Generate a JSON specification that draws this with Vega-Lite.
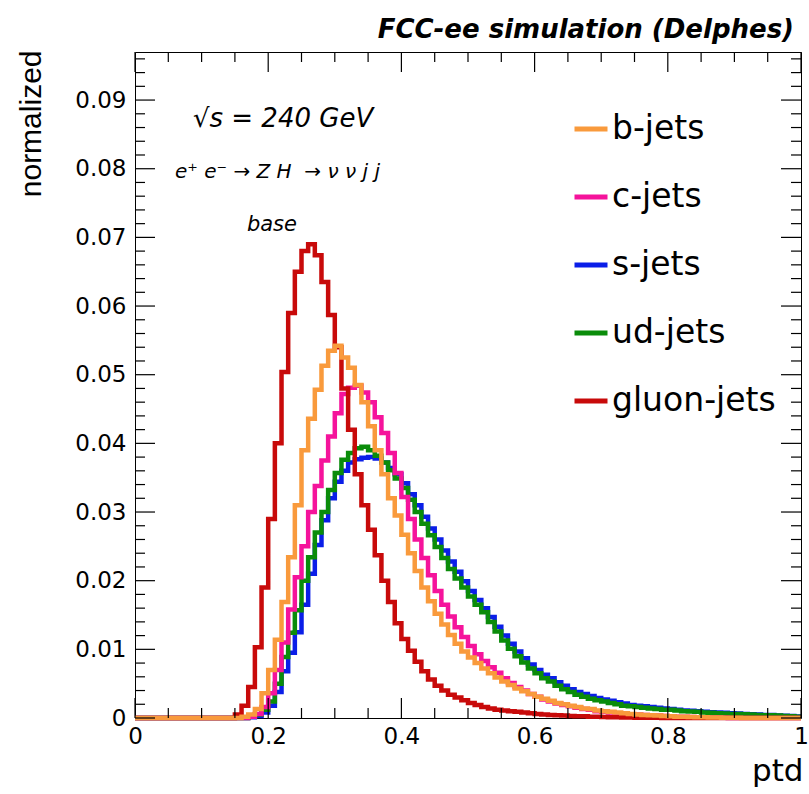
{
  "$schema": "https://vega.github.io/schema/vega-lite/v6.json",
  "width": 666,
  "height": 666,
  "autosize": "none",
  "padding": {"left": 135, "top": 52, "right": 8, "bottom": 76},
  "background": "white",
  "config": {
    "view": {"stroke": "black", "strokeWidth": 1},
    "axis": {"grid": false, "domain": false, "labelColor": "black", "titleColor": "black", "labelFont": "DejaVu Sans", "labelFontSize": 23, "labelFlush": false, "labelOverlap": false, "titleFontWeight": "normal"}
  },
  "title": {"text": "FCC-ee simulation (Delphes)", "anchor": "end", "font": "DejaVu Sans", "fontSize": 26, "fontStyle": "italic", "fontWeight": "bold", "color": "black", "offset": 7, "dx": -16},
  "datasets": {
    "h": [
      {"jet": "gluon-jets", "x": 0, "v": 0}, {"jet": "gluon-jets", "x": 0.15, "v": 0.0005}, {"jet": "gluon-jets", "x": 0.16, "v": 0.0018}, {"jet": "gluon-jets", "x": 0.17, "v": 0.0045}, {"jet": "gluon-jets", "x": 0.18, "v": 0.0103}, {"jet": "gluon-jets", "x": 0.19, "v": 0.019}, {"jet": "gluon-jets", "x": 0.2, "v": 0.029}, {"jet": "gluon-jets", "x": 0.21, "v": 0.04}, {"jet": "gluon-jets", "x": 0.22, "v": 0.0504}, {"jet": "gluon-jets", "x": 0.23, "v": 0.059}, {"jet": "gluon-jets", "x": 0.24, "v": 0.065}, {"jet": "gluon-jets", "x": 0.25, "v": 0.068}, {"jet": "gluon-jets", "x": 0.26, "v": 0.069}, {"jet": "gluon-jets", "x": 0.27, "v": 0.0674}, {"jet": "gluon-jets", "x": 0.28, "v": 0.0635}, {"jet": "gluon-jets", "x": 0.29, "v": 0.0587}, {"jet": "gluon-jets", "x": 0.3, "v": 0.054}, {"jet": "gluon-jets", "x": 0.31, "v": 0.048}, {"jet": "gluon-jets", "x": 0.32, "v": 0.042}, {"jet": "gluon-jets", "x": 0.33, "v": 0.0355}, {"jet": "gluon-jets", "x": 0.34, "v": 0.031}, {"jet": "gluon-jets", "x": 0.35, "v": 0.0274}, {"jet": "gluon-jets", "x": 0.36, "v": 0.0237}, {"jet": "gluon-jets", "x": 0.37, "v": 0.02}, {"jet": "gluon-jets", "x": 0.38, "v": 0.0169}, {"jet": "gluon-jets", "x": 0.39, "v": 0.0138}, {"jet": "gluon-jets", "x": 0.4, "v": 0.0115}, {"jet": "gluon-jets", "x": 0.41, "v": 0.0098}, {"jet": "gluon-jets", "x": 0.42, "v": 0.0082}, {"jet": "gluon-jets", "x": 0.43, "v": 0.0068}, {"jet": "gluon-jets", "x": 0.44, "v": 0.0056}, {"jet": "gluon-jets", "x": 0.45, "v": 0.0047}, {"jet": "gluon-jets", "x": 0.46, "v": 0.004}, {"jet": "gluon-jets", "x": 0.47, "v": 0.0034}, {"jet": "gluon-jets", "x": 0.48, "v": 0.003}, {"jet": "gluon-jets", "x": 0.49, "v": 0.0026}, {"jet": "gluon-jets", "x": 0.5, "v": 0.0022}, {"jet": "gluon-jets", "x": 0.51, "v": 0.0019}, {"jet": "gluon-jets", "x": 0.52, "v": 0.0016}, {"jet": "gluon-jets", "x": 0.53, "v": 0.0014}, {"jet": "gluon-jets", "x": 0.54, "v": 0.0012}, {"jet": "gluon-jets", "x": 0.55, "v": 0.0011}, {"jet": "gluon-jets", "x": 0.56, "v": 0.001}, {"jet": "gluon-jets", "x": 0.57, "v": 0.0009}, {"jet": "gluon-jets", "x": 0.58, "v": 0.0008}, {"jet": "gluon-jets", "x": 0.59, "v": 0.0007}, {"jet": "gluon-jets", "x": 0.6, "v": 0.0006}, {"jet": "gluon-jets", "x": 0.61, "v": 0.0005}, {"jet": "gluon-jets", "x": 0.62, "v": 0.00045}, {"jet": "gluon-jets", "x": 0.63, "v": 0.0004}, {"jet": "gluon-jets", "x": 0.64, "v": 0.00035}, {"jet": "gluon-jets", "x": 0.65, "v": 0.0003}, {"jet": "gluon-jets", "x": 0.66, "v": 0.00027}, {"jet": "gluon-jets", "x": 0.67, "v": 0.00024}, {"jet": "gluon-jets", "x": 0.68, "v": 0.0002}, {"jet": "gluon-jets", "x": 0.69, "v": 0.00017}, {"jet": "gluon-jets", "x": 0.7, "v": 0.00015}, {"jet": "gluon-jets", "x": 0.71, "v": 0.00012}, {"jet": "gluon-jets", "x": 0.72, "v": 0.0001}, {"jet": "gluon-jets", "x": 0.73, "v": 0.00008}, {"jet": "gluon-jets", "x": 0.74, "v": 0.00006}, {"jet": "gluon-jets", "x": 0.75, "v": 0.00005}, {"jet": "gluon-jets", "x": 0.76, "v": 0.00004}, {"jet": "gluon-jets", "x": 0.77, "v": 0.00003}, {"jet": "gluon-jets", "x": 0.78, "v": 0.00002}, {"jet": "gluon-jets", "x": 0.79, "v": 0}, {"jet": "gluon-jets", "x": 1, "v": 0},

      {"jet": "b-jets", "x": 0, "v": 0}, {"jet": "b-jets", "x": 0.16, "v": 0.0002}, {"jet": "b-jets", "x": 0.17, "v": 0.0005}, {"jet": "b-jets", "x": 0.18, "v": 0.0013}, {"jet": "b-jets", "x": 0.19, "v": 0.0036}, {"jet": "b-jets", "x": 0.2, "v": 0.007}, {"jet": "b-jets", "x": 0.21, "v": 0.0114}, {"jet": "b-jets", "x": 0.22, "v": 0.0169}, {"jet": "b-jets", "x": 0.23, "v": 0.0234}, {"jet": "b-jets", "x": 0.24, "v": 0.031}, {"jet": "b-jets", "x": 0.25, "v": 0.039}, {"jet": "b-jets", "x": 0.26, "v": 0.0436}, {"jet": "b-jets", "x": 0.27, "v": 0.0478}, {"jet": "b-jets", "x": 0.28, "v": 0.0513}, {"jet": "b-jets", "x": 0.29, "v": 0.0535}, {"jet": "b-jets", "x": 0.3, "v": 0.0542}, {"jet": "b-jets", "x": 0.31, "v": 0.0525}, {"jet": "b-jets", "x": 0.32, "v": 0.051}, {"jet": "b-jets", "x": 0.33, "v": 0.0485}, {"jet": "b-jets", "x": 0.34, "v": 0.046}, {"jet": "b-jets", "x": 0.35, "v": 0.0425}, {"jet": "b-jets", "x": 0.36, "v": 0.039}, {"jet": "b-jets", "x": 0.37, "v": 0.0355}, {"jet": "b-jets", "x": 0.38, "v": 0.032}, {"jet": "b-jets", "x": 0.39, "v": 0.0295}, {"jet": "b-jets", "x": 0.4, "v": 0.0267}, {"jet": "b-jets", "x": 0.41, "v": 0.024}, {"jet": "b-jets", "x": 0.42, "v": 0.0214}, {"jet": "b-jets", "x": 0.43, "v": 0.019}, {"jet": "b-jets", "x": 0.44, "v": 0.017}, {"jet": "b-jets", "x": 0.45, "v": 0.0152}, {"jet": "b-jets", "x": 0.46, "v": 0.0136}, {"jet": "b-jets", "x": 0.47, "v": 0.0121}, {"jet": "b-jets", "x": 0.48, "v": 0.0108}, {"jet": "b-jets", "x": 0.49, "v": 0.0097}, {"jet": "b-jets", "x": 0.5, "v": 0.0088}, {"jet": "b-jets", "x": 0.51, "v": 0.008}, {"jet": "b-jets", "x": 0.52, "v": 0.0072}, {"jet": "b-jets", "x": 0.53, "v": 0.0065}, {"jet": "b-jets", "x": 0.54, "v": 0.0059}, {"jet": "b-jets", "x": 0.55, "v": 0.0053}, {"jet": "b-jets", "x": 0.56, "v": 0.0048}, {"jet": "b-jets", "x": 0.57, "v": 0.0043}, {"jet": "b-jets", "x": 0.58, "v": 0.0039}, {"jet": "b-jets", "x": 0.59, "v": 0.0035}, {"jet": "b-jets", "x": 0.6, "v": 0.0031}, {"jet": "b-jets", "x": 0.61, "v": 0.0028}, {"jet": "b-jets", "x": 0.62, "v": 0.0025}, {"jet": "b-jets", "x": 0.63, "v": 0.0022}, {"jet": "b-jets", "x": 0.64, "v": 0.002}, {"jet": "b-jets", "x": 0.65, "v": 0.0018}, {"jet": "b-jets", "x": 0.66, "v": 0.0016}, {"jet": "b-jets", "x": 0.67, "v": 0.0014}, {"jet": "b-jets", "x": 0.68, "v": 0.0013}, {"jet": "b-jets", "x": 0.69, "v": 0.0011}, {"jet": "b-jets", "x": 0.7, "v": 0.001}, {"jet": "b-jets", "x": 0.71, "v": 0.0009}, {"jet": "b-jets", "x": 0.72, "v": 0.0008}, {"jet": "b-jets", "x": 0.73, "v": 0.0007}, {"jet": "b-jets", "x": 0.74, "v": 0.0006}, {"jet": "b-jets", "x": 0.75, "v": 0.0005}, {"jet": "b-jets", "x": 0.76, "v": 0.00045}, {"jet": "b-jets", "x": 0.77, "v": 0.0004}, {"jet": "b-jets", "x": 0.78, "v": 0.00035}, {"jet": "b-jets", "x": 0.79, "v": 0.0003}, {"jet": "b-jets", "x": 0.8, "v": 0.00025}, {"jet": "b-jets", "x": 0.81, "v": 0.0002}, {"jet": "b-jets", "x": 0.82, "v": 0.00018}, {"jet": "b-jets", "x": 0.83, "v": 0.00015}, {"jet": "b-jets", "x": 0.84, "v": 0.00012}, {"jet": "b-jets", "x": 0.85, "v": 0.0001}, {"jet": "b-jets", "x": 0.86, "v": 0.00008}, {"jet": "b-jets", "x": 0.87, "v": 0.00006}, {"jet": "b-jets", "x": 0.88, "v": 0.00005}, {"jet": "b-jets", "x": 0.89, "v": 0.00004}, {"jet": "b-jets", "x": 0.9, "v": 0.00003}, {"jet": "b-jets", "x": 0.91, "v": 0}, {"jet": "b-jets", "x": 1, "v": 0},

      {"jet": "c-jets", "x": 0, "v": 0}, {"jet": "c-jets", "x": 0.17, "v": 0.0002}, {"jet": "c-jets", "x": 0.18, "v": 0.0006}, {"jet": "c-jets", "x": 0.19, "v": 0.0016}, {"jet": "c-jets", "x": 0.2, "v": 0.0036}, {"jet": "c-jets", "x": 0.21, "v": 0.007}, {"jet": "c-jets", "x": 0.22, "v": 0.011}, {"jet": "c-jets", "x": 0.23, "v": 0.0158}, {"jet": "c-jets", "x": 0.24, "v": 0.0205}, {"jet": "c-jets", "x": 0.25, "v": 0.025}, {"jet": "c-jets", "x": 0.26, "v": 0.03}, {"jet": "c-jets", "x": 0.27, "v": 0.0338}, {"jet": "c-jets", "x": 0.28, "v": 0.0375}, {"jet": "c-jets", "x": 0.29, "v": 0.041}, {"jet": "c-jets", "x": 0.3, "v": 0.0444}, {"jet": "c-jets", "x": 0.31, "v": 0.0472}, {"jet": "c-jets", "x": 0.32, "v": 0.0481}, {"jet": "c-jets", "x": 0.33, "v": 0.0484}, {"jet": "c-jets", "x": 0.34, "v": 0.0474}, {"jet": "c-jets", "x": 0.35, "v": 0.046}, {"jet": "c-jets", "x": 0.36, "v": 0.0438}, {"jet": "c-jets", "x": 0.37, "v": 0.0415}, {"jet": "c-jets", "x": 0.38, "v": 0.0386}, {"jet": "c-jets", "x": 0.39, "v": 0.0357}, {"jet": "c-jets", "x": 0.4, "v": 0.0322}, {"jet": "c-jets", "x": 0.41, "v": 0.029}, {"jet": "c-jets", "x": 0.42, "v": 0.026}, {"jet": "c-jets", "x": 0.43, "v": 0.0233}, {"jet": "c-jets", "x": 0.44, "v": 0.0208}, {"jet": "c-jets", "x": 0.45, "v": 0.0185}, {"jet": "c-jets", "x": 0.46, "v": 0.0165}, {"jet": "c-jets", "x": 0.47, "v": 0.0148}, {"jet": "c-jets", "x": 0.48, "v": 0.0132}, {"jet": "c-jets", "x": 0.49, "v": 0.0118}, {"jet": "c-jets", "x": 0.5, "v": 0.0105}, {"jet": "c-jets", "x": 0.51, "v": 0.0093}, {"jet": "c-jets", "x": 0.52, "v": 0.0083}, {"jet": "c-jets", "x": 0.53, "v": 0.0074}, {"jet": "c-jets", "x": 0.54, "v": 0.0066}, {"jet": "c-jets", "x": 0.55, "v": 0.0058}, {"jet": "c-jets", "x": 0.56, "v": 0.0051}, {"jet": "c-jets", "x": 0.57, "v": 0.0045}, {"jet": "c-jets", "x": 0.58, "v": 0.004}, {"jet": "c-jets", "x": 0.59, "v": 0.0035}, {"jet": "c-jets", "x": 0.6, "v": 0.0031}, {"jet": "c-jets", "x": 0.61, "v": 0.0027}, {"jet": "c-jets", "x": 0.62, "v": 0.0024}, {"jet": "c-jets", "x": 0.63, "v": 0.0021}, {"jet": "c-jets", "x": 0.64, "v": 0.0019}, {"jet": "c-jets", "x": 0.65, "v": 0.0017}, {"jet": "c-jets", "x": 0.66, "v": 0.0015}, {"jet": "c-jets", "x": 0.67, "v": 0.0013}, {"jet": "c-jets", "x": 0.68, "v": 0.0012}, {"jet": "c-jets", "x": 0.69, "v": 0.001}, {"jet": "c-jets", "x": 0.7, "v": 0.0009}, {"jet": "c-jets", "x": 0.71, "v": 0.0008}, {"jet": "c-jets", "x": 0.72, "v": 0.0007}, {"jet": "c-jets", "x": 0.73, "v": 0.0006}, {"jet": "c-jets", "x": 0.74, "v": 0.00055}, {"jet": "c-jets", "x": 0.75, "v": 0.0005}, {"jet": "c-jets", "x": 0.76, "v": 0.00045}, {"jet": "c-jets", "x": 0.77, "v": 0.0004}, {"jet": "c-jets", "x": 0.78, "v": 0.00035}, {"jet": "c-jets", "x": 0.79, "v": 0.0003}, {"jet": "c-jets", "x": 0.8, "v": 0.00025}, {"jet": "c-jets", "x": 0.81, "v": 0.0002}, {"jet": "c-jets", "x": 0.82, "v": 0.00018}, {"jet": "c-jets", "x": 0.83, "v": 0.00015}, {"jet": "c-jets", "x": 0.84, "v": 0.00012}, {"jet": "c-jets", "x": 0.85, "v": 0.0001}, {"jet": "c-jets", "x": 0.86, "v": 0.00008}, {"jet": "c-jets", "x": 0.87, "v": 0.00006}, {"jet": "c-jets", "x": 0.88, "v": 0.00004}, {"jet": "c-jets", "x": 0.89, "v": 0}, {"jet": "c-jets", "x": 1, "v": 0},

      {"jet": "ud-jets", "x": 0, "v": 0}, {"jet": "ud-jets", "x": 0.17, "v": 0.0002}, {"jet": "ud-jets", "x": 0.18, "v": 0.0005}, {"jet": "ud-jets", "x": 0.19, "v": 0.0012}, {"jet": "ud-jets", "x": 0.2, "v": 0.0024}, {"jet": "ud-jets", "x": 0.21, "v": 0.005}, {"jet": "ud-jets", "x": 0.22, "v": 0.0089}, {"jet": "ud-jets", "x": 0.23, "v": 0.0124}, {"jet": "ud-jets", "x": 0.24, "v": 0.0157}, {"jet": "ud-jets", "x": 0.25, "v": 0.02}, {"jet": "ud-jets", "x": 0.26, "v": 0.0234}, {"jet": "ud-jets", "x": 0.27, "v": 0.027}, {"jet": "ud-jets", "x": 0.28, "v": 0.03}, {"jet": "ud-jets", "x": 0.29, "v": 0.0332}, {"jet": "ud-jets", "x": 0.3, "v": 0.0357}, {"jet": "ud-jets", "x": 0.31, "v": 0.0376}, {"jet": "ud-jets", "x": 0.32, "v": 0.0386}, {"jet": "ud-jets", "x": 0.33, "v": 0.0393}, {"jet": "ud-jets", "x": 0.34, "v": 0.0395}, {"jet": "ud-jets", "x": 0.35, "v": 0.039}, {"jet": "ud-jets", "x": 0.36, "v": 0.0382}, {"jet": "ud-jets", "x": 0.37, "v": 0.0372}, {"jet": "ud-jets", "x": 0.38, "v": 0.0361}, {"jet": "ud-jets", "x": 0.39, "v": 0.0349}, {"jet": "ud-jets", "x": 0.4, "v": 0.0335}, {"jet": "ud-jets", "x": 0.41, "v": 0.0318}, {"jet": "ud-jets", "x": 0.42, "v": 0.03}, {"jet": "ud-jets", "x": 0.43, "v": 0.0283}, {"jet": "ud-jets", "x": 0.44, "v": 0.0266}, {"jet": "ud-jets", "x": 0.45, "v": 0.0249}, {"jet": "ud-jets", "x": 0.46, "v": 0.0233}, {"jet": "ud-jets", "x": 0.47, "v": 0.0217}, {"jet": "ud-jets", "x": 0.48, "v": 0.0203}, {"jet": "ud-jets", "x": 0.49, "v": 0.019}, {"jet": "ud-jets", "x": 0.5, "v": 0.0177}, {"jet": "ud-jets", "x": 0.51, "v": 0.0165}, {"jet": "ud-jets", "x": 0.52, "v": 0.0154}, {"jet": "ud-jets", "x": 0.53, "v": 0.014}, {"jet": "ud-jets", "x": 0.54, "v": 0.0126}, {"jet": "ud-jets", "x": 0.55, "v": 0.0113}, {"jet": "ud-jets", "x": 0.56, "v": 0.0101}, {"jet": "ud-jets", "x": 0.57, "v": 0.009}, {"jet": "ud-jets", "x": 0.58, "v": 0.0081}, {"jet": "ud-jets", "x": 0.59, "v": 0.0072}, {"jet": "ud-jets", "x": 0.6, "v": 0.0065}, {"jet": "ud-jets", "x": 0.61, "v": 0.0058}, {"jet": "ud-jets", "x": 0.62, "v": 0.0053}, {"jet": "ud-jets", "x": 0.63, "v": 0.0047}, {"jet": "ud-jets", "x": 0.64, "v": 0.0042}, {"jet": "ud-jets", "x": 0.65, "v": 0.0038}, {"jet": "ud-jets", "x": 0.66, "v": 0.0034}, {"jet": "ud-jets", "x": 0.67, "v": 0.0031}, {"jet": "ud-jets", "x": 0.68, "v": 0.0028}, {"jet": "ud-jets", "x": 0.69, "v": 0.0026}, {"jet": "ud-jets", "x": 0.7, "v": 0.0024}, {"jet": "ud-jets", "x": 0.71, "v": 0.0022}, {"jet": "ud-jets", "x": 0.72, "v": 0.002}, {"jet": "ud-jets", "x": 0.73, "v": 0.0018}, {"jet": "ud-jets", "x": 0.74, "v": 0.0017}, {"jet": "ud-jets", "x": 0.75, "v": 0.0016}, {"jet": "ud-jets", "x": 0.76, "v": 0.0015}, {"jet": "ud-jets", "x": 0.77, "v": 0.0014}, {"jet": "ud-jets", "x": 0.78, "v": 0.0013}, {"jet": "ud-jets", "x": 0.79, "v": 0.0012}, {"jet": "ud-jets", "x": 0.8, "v": 0.0012}, {"jet": "ud-jets", "x": 0.81, "v": 0.0011}, {"jet": "ud-jets", "x": 0.82, "v": 0.001}, {"jet": "ud-jets", "x": 0.83, "v": 0.00095}, {"jet": "ud-jets", "x": 0.84, "v": 0.0009}, {"jet": "ud-jets", "x": 0.85, "v": 0.0008}, {"jet": "ud-jets", "x": 0.86, "v": 0.00075}, {"jet": "ud-jets", "x": 0.87, "v": 0.0007}, {"jet": "ud-jets", "x": 0.88, "v": 0.00065}, {"jet": "ud-jets", "x": 0.89, "v": 0.0006}, {"jet": "ud-jets", "x": 0.9, "v": 0.0006}, {"jet": "ud-jets", "x": 0.91, "v": 0.00055}, {"jet": "ud-jets", "x": 0.92, "v": 0.0005}, {"jet": "ud-jets", "x": 0.93, "v": 0.00045}, {"jet": "ud-jets", "x": 0.94, "v": 0.0004}, {"jet": "ud-jets", "x": 0.95, "v": 0.0004}, {"jet": "ud-jets", "x": 0.96, "v": 0.00035}, {"jet": "ud-jets", "x": 0.97, "v": 0.0003}, {"jet": "ud-jets", "x": 0.98, "v": 0.00025}, {"jet": "ud-jets", "x": 0.99, "v": 0.0002}, {"jet": "ud-jets", "x": 1, "v": 0.0002},

      {"jet": "s-jets", "x": 0, "v": 0}, {"jet": "s-jets", "x": 0.17, "v": 0.0001}, {"jet": "s-jets", "x": 0.18, "v": 0.0003}, {"jet": "s-jets", "x": 0.19, "v": 0.0008}, {"jet": "s-jets", "x": 0.2, "v": 0.0018}, {"jet": "s-jets", "x": 0.21, "v": 0.0038}, {"jet": "s-jets", "x": 0.22, "v": 0.0068}, {"jet": "s-jets", "x": 0.23, "v": 0.0095}, {"jet": "s-jets", "x": 0.24, "v": 0.0125}, {"jet": "s-jets", "x": 0.25, "v": 0.0165}, {"jet": "s-jets", "x": 0.26, "v": 0.021}, {"jet": "s-jets", "x": 0.27, "v": 0.0252}, {"jet": "s-jets", "x": 0.28, "v": 0.0288}, {"jet": "s-jets", "x": 0.29, "v": 0.032}, {"jet": "s-jets", "x": 0.3, "v": 0.0344}, {"jet": "s-jets", "x": 0.31, "v": 0.036}, {"jet": "s-jets", "x": 0.32, "v": 0.0372}, {"jet": "s-jets", "x": 0.33, "v": 0.0377}, {"jet": "s-jets", "x": 0.34, "v": 0.0379}, {"jet": "s-jets", "x": 0.35, "v": 0.038}, {"jet": "s-jets", "x": 0.36, "v": 0.0378}, {"jet": "s-jets", "x": 0.37, "v": 0.0372}, {"jet": "s-jets", "x": 0.38, "v": 0.0364}, {"jet": "s-jets", "x": 0.39, "v": 0.0355}, {"jet": "s-jets", "x": 0.4, "v": 0.0342}, {"jet": "s-jets", "x": 0.41, "v": 0.0326}, {"jet": "s-jets", "x": 0.42, "v": 0.031}, {"jet": "s-jets", "x": 0.43, "v": 0.0293}, {"jet": "s-jets", "x": 0.44, "v": 0.0276}, {"jet": "s-jets", "x": 0.45, "v": 0.026}, {"jet": "s-jets", "x": 0.46, "v": 0.0244}, {"jet": "s-jets", "x": 0.47, "v": 0.0228}, {"jet": "s-jets", "x": 0.48, "v": 0.0213}, {"jet": "s-jets", "x": 0.49, "v": 0.0199}, {"jet": "s-jets", "x": 0.5, "v": 0.0185}, {"jet": "s-jets", "x": 0.51, "v": 0.0172}, {"jet": "s-jets", "x": 0.52, "v": 0.016}, {"jet": "s-jets", "x": 0.53, "v": 0.0147}, {"jet": "s-jets", "x": 0.54, "v": 0.0133}, {"jet": "s-jets", "x": 0.55, "v": 0.012}, {"jet": "s-jets", "x": 0.56, "v": 0.0108}, {"jet": "s-jets", "x": 0.57, "v": 0.0097}, {"jet": "s-jets", "x": 0.58, "v": 0.0087}, {"jet": "s-jets", "x": 0.59, "v": 0.0078}, {"jet": "s-jets", "x": 0.6, "v": 0.007}, {"jet": "s-jets", "x": 0.61, "v": 0.0063}, {"jet": "s-jets", "x": 0.62, "v": 0.0058}, {"jet": "s-jets", "x": 0.63, "v": 0.0052}, {"jet": "s-jets", "x": 0.64, "v": 0.0047}, {"jet": "s-jets", "x": 0.65, "v": 0.0042}, {"jet": "s-jets", "x": 0.66, "v": 0.0038}, {"jet": "s-jets", "x": 0.67, "v": 0.0035}, {"jet": "s-jets", "x": 0.68, "v": 0.0032}, {"jet": "s-jets", "x": 0.69, "v": 0.0029}, {"jet": "s-jets", "x": 0.7, "v": 0.0027}, {"jet": "s-jets", "x": 0.71, "v": 0.0025}, {"jet": "s-jets", "x": 0.72, "v": 0.0023}, {"jet": "s-jets", "x": 0.73, "v": 0.0021}, {"jet": "s-jets", "x": 0.74, "v": 0.0019}, {"jet": "s-jets", "x": 0.75, "v": 0.0018}, {"jet": "s-jets", "x": 0.76, "v": 0.0017}, {"jet": "s-jets", "x": 0.77, "v": 0.0016}, {"jet": "s-jets", "x": 0.78, "v": 0.0015}, {"jet": "s-jets", "x": 0.79, "v": 0.0014}, {"jet": "s-jets", "x": 0.8, "v": 0.0013}, {"jet": "s-jets", "x": 0.81, "v": 0.0012}, {"jet": "s-jets", "x": 0.82, "v": 0.0011}, {"jet": "s-jets", "x": 0.83, "v": 0.00105}, {"jet": "s-jets", "x": 0.84, "v": 0.001}, {"jet": "s-jets", "x": 0.85, "v": 0.0009}, {"jet": "s-jets", "x": 0.86, "v": 0.00085}, {"jet": "s-jets", "x": 0.87, "v": 0.0008}, {"jet": "s-jets", "x": 0.88, "v": 0.00075}, {"jet": "s-jets", "x": 0.89, "v": 0.0007}, {"jet": "s-jets", "x": 0.9, "v": 0.00065}, {"jet": "s-jets", "x": 0.91, "v": 0.0006}, {"jet": "s-jets", "x": 0.92, "v": 0.00055}, {"jet": "s-jets", "x": 0.93, "v": 0.0005}, {"jet": "s-jets", "x": 0.94, "v": 0.00045}, {"jet": "s-jets", "x": 0.95, "v": 0.00042}, {"jet": "s-jets", "x": 0.96, "v": 0.00038}, {"jet": "s-jets", "x": 0.97, "v": 0.00033}, {"jet": "s-jets", "x": 0.98, "v": 0.00028}, {"jet": "s-jets", "x": 0.99, "v": 0.00023}, {"jet": "s-jets", "x": 1, "v": 0.00023}
    ],
    "xmaj": [{"t": 0}, {"t": 0.2}, {"t": 0.4}, {"t": 0.6}, {"t": 0.8}, {"t": 1}],
    "xmin": [{"t": 0.05}, {"t": 0.1}, {"t": 0.15}, {"t": 0.25}, {"t": 0.3}, {"t": 0.35}, {"t": 0.45}, {"t": 0.5}, {"t": 0.55}, {"t": 0.65}, {"t": 0.7}, {"t": 0.75}, {"t": 0.85}, {"t": 0.9}, {"t": 0.95}],
    "ymaj": [{"t": 0}, {"t": 0.01}, {"t": 0.02}, {"t": 0.03}, {"t": 0.04}, {"t": 0.05}, {"t": 0.06}, {"t": 0.07}, {"t": 0.08}, {"t": 0.09}],
    "ymin": [{"t": 0.002}, {"t": 0.004}, {"t": 0.006}, {"t": 0.008}, {"t": 0.012}, {"t": 0.014}, {"t": 0.016}, {"t": 0.018}, {"t": 0.022}, {"t": 0.024}, {"t": 0.026}, {"t": 0.028}, {"t": 0.032}, {"t": 0.034}, {"t": 0.036}, {"t": 0.038}, {"t": 0.042}, {"t": 0.044}, {"t": 0.046}, {"t": 0.048}, {"t": 0.052}, {"t": 0.054}, {"t": 0.056}, {"t": 0.058}, {"t": 0.062}, {"t": 0.064}, {"t": 0.066}, {"t": 0.068}, {"t": 0.072}, {"t": 0.074}, {"t": 0.076}, {"t": 0.078}, {"t": 0.082}, {"t": 0.084}, {"t": 0.086}, {"t": 0.088}, {"t": 0.092}, {"t": 0.094}, {"t": 0.096}]
  },
  "data": {"name": "h"},
  "layer": [
    {
      "mark": {"type": "point", "opacity": 0},
      "encoding": {
        "x": {"field": "x", "type": "quantitative", "scale": {"domain": [0, 1], "nice": false, "zero": false},
              "axis": {"orient": "bottom", "values": [0, 0.2, 0.4, 0.6, 0.8, 1], "ticks": false, "labelPadding": 7, "format": "~g", "title": "ptd", "titleFont": "DejaVu Sans", "titleFontSize": 31, "titleAlign": "right", "titleBaseline": "middle", "titleX": 668, "titleY": 53}},
        "y": {"field": "v", "type": "quantitative", "scale": {"domain": [0, 0.097], "nice": false, "zero": true},
              "axis": {"orient": "left", "values": [0, 0.01, 0.02, 0.03, 0.04, 0.05, 0.06, 0.07, 0.08, 0.09], "ticks": false, "labelPadding": 9, "format": "~g", "title": "normalized", "titleFont": "Liberation Sans", "titleFontSize": 30, "titleAngle": -90, "titleAlign": "right", "titleBaseline": "middle", "titleX": -104, "titleY": -2}}
      }
    },
    {
      "transform": [{"filter": "datum.jet === 's-jets'"}],
      "mark": {"type": "line", "interpolate": "step-after", "strokeWidth": 4.5},
      "encoding": {
        "x": {"field": "x", "type": "quantitative"},
        "y": {"field": "v", "type": "quantitative"},
        "color": {"field": "jet", "type": "nominal",
                  "scale": {"domain": ["b-jets", "c-jets", "s-jets", "ud-jets", "gluon-jets"], "range": ["#f99a3c", "#f5139b", "#0a1ee8", "#0a8c0a", "#c80a0a"]},
                  "legend": {"title": null, "orient": "none", "legendX": 437, "legendY": 58, "symbolType": "stroke", "symbolSize": 1089, "symbolStrokeWidth": 5, "labelFont": "DejaVu Sans", "labelFontSize": 33, "labelColor": "black", "rowPadding": 32, "labelOffset": 2, "padding": 0, "labelLimit": 0}}
      }
    },
    {
      "transform": [{"filter": "datum.jet === 'ud-jets'"}],
      "mark": {"type": "line", "interpolate": "step-after", "strokeWidth": 4.5},
      "encoding": {"x": {"field": "x", "type": "quantitative"}, "y": {"field": "v", "type": "quantitative"}, "color": {"field": "jet", "type": "nominal"}}
    },
    {
      "transform": [{"filter": "datum.jet === 'c-jets'"}],
      "mark": {"type": "line", "interpolate": "step-after", "strokeWidth": 4.5},
      "encoding": {"x": {"field": "x", "type": "quantitative"}, "y": {"field": "v", "type": "quantitative"}, "color": {"field": "jet", "type": "nominal"}}
    },
    {
      "transform": [{"filter": "datum.jet === 'gluon-jets'"}],
      "mark": {"type": "line", "interpolate": "step-after", "strokeWidth": 4.5},
      "encoding": {"x": {"field": "x", "type": "quantitative"}, "y": {"field": "v", "type": "quantitative"}, "color": {"field": "jet", "type": "nominal"}}
    },
    {
      "transform": [{"filter": "datum.jet === 'b-jets'"}],
      "mark": {"type": "line", "interpolate": "step-after", "strokeWidth": 4.5},
      "encoding": {"x": {"field": "x", "type": "quantitative"}, "y": {"field": "v", "type": "quantitative"}, "color": {"field": "jet", "type": "nominal"}}
    },
    {
      "data": {"name": "xmaj"},
      "mark": {"type": "tick", "orient": "vertical", "size": 20, "thickness": 1.2, "color": "#000000", "opacity": 1},
      "encoding": {"x": {"field": "t", "type": "quantitative"}, "y": {"datum": 0.0014565, "type": "quantitative"}}
    },
    {
      "data": {"name": "xmaj"},
      "mark": {"type": "tick", "orient": "vertical", "size": 20, "thickness": 1.2, "color": "#000000", "opacity": 1},
      "encoding": {"x": {"field": "t", "type": "quantitative"}, "y": {"datum": 0.0955435, "type": "quantitative"}}
    },
    {
      "data": {"name": "xmin"},
      "mark": {"type": "tick", "orient": "vertical", "size": 10, "thickness": 1.2, "color": "#000000", "opacity": 1},
      "encoding": {"x": {"field": "t", "type": "quantitative"}, "y": {"datum": 0.00072824, "type": "quantitative"}}
    },
    {
      "data": {"name": "xmin"},
      "mark": {"type": "tick", "orient": "vertical", "size": 10, "thickness": 1.2, "color": "#000000", "opacity": 1},
      "encoding": {"x": {"field": "t", "type": "quantitative"}, "y": {"datum": 0.09627176, "type": "quantitative"}}
    },
    {
      "data": {"name": "ymaj"},
      "mark": {"type": "tick", "orient": "horizontal", "size": 20, "thickness": 1.2, "color": "#000000", "opacity": 1},
      "encoding": {"y": {"field": "t", "type": "quantitative"}, "x": {"datum": 0.015015, "type": "quantitative"}}
    },
    {
      "data": {"name": "ymaj"},
      "mark": {"type": "tick", "orient": "horizontal", "size": 20, "thickness": 1.2, "color": "#000000", "opacity": 1},
      "encoding": {"y": {"field": "t", "type": "quantitative"}, "x": {"datum": 0.984985, "type": "quantitative"}}
    },
    {
      "data": {"name": "ymin"},
      "mark": {"type": "tick", "orient": "horizontal", "size": 10, "thickness": 1.2, "color": "#000000", "opacity": 1},
      "encoding": {"y": {"field": "t", "type": "quantitative"}, "x": {"datum": 0.0075075, "type": "quantitative"}}
    },
    {
      "data": {"name": "ymin"},
      "mark": {"type": "tick", "orient": "horizontal", "size": 10, "thickness": 1.2, "color": "#000000", "opacity": 1},
      "encoding": {"y": {"field": "t", "type": "quantitative"}, "x": {"datum": 0.9924925, "type": "quantitative"}}
    },
    {
      "data": {"values": [{"label": "√s = 240 GeV"}]},
      "mark": {"type": "text", "align": "left", "baseline": "middle", "font": "DejaVu Sans", "fontStyle": "italic", "fontSize": 26, "color": "black"},
      "encoding": {"x": {"datum": 0.087, "type": "quantitative"}, "y": {"datum": 0.0873, "type": "quantitative"}, "text": {"field": "label"}}
    },
    {
      "data": {"values": [{"label": "e⁺ e⁻ → Z H \u00a0→ ν ν j j"}]},
      "mark": {"type": "text", "align": "left", "baseline": "middle", "font": "DejaVu Sans", "fontStyle": "italic", "fontSize": 20, "color": "black"},
      "encoding": {"x": {"datum": 0.06, "type": "quantitative"}, "y": {"datum": 0.0795, "type": "quantitative"}, "text": {"field": "label"}}
    },
    {
      "data": {"values": [{"label": "base"}]},
      "mark": {"type": "text", "align": "left", "baseline": "middle", "font": "DejaVu Sans", "fontStyle": "italic", "fontSize": 21, "color": "black"},
      "encoding": {"x": {"datum": 0.168, "type": "quantitative"}, "y": {"datum": 0.0718, "type": "quantitative"}, "text": {"field": "label"}}
    }
  ]
}
